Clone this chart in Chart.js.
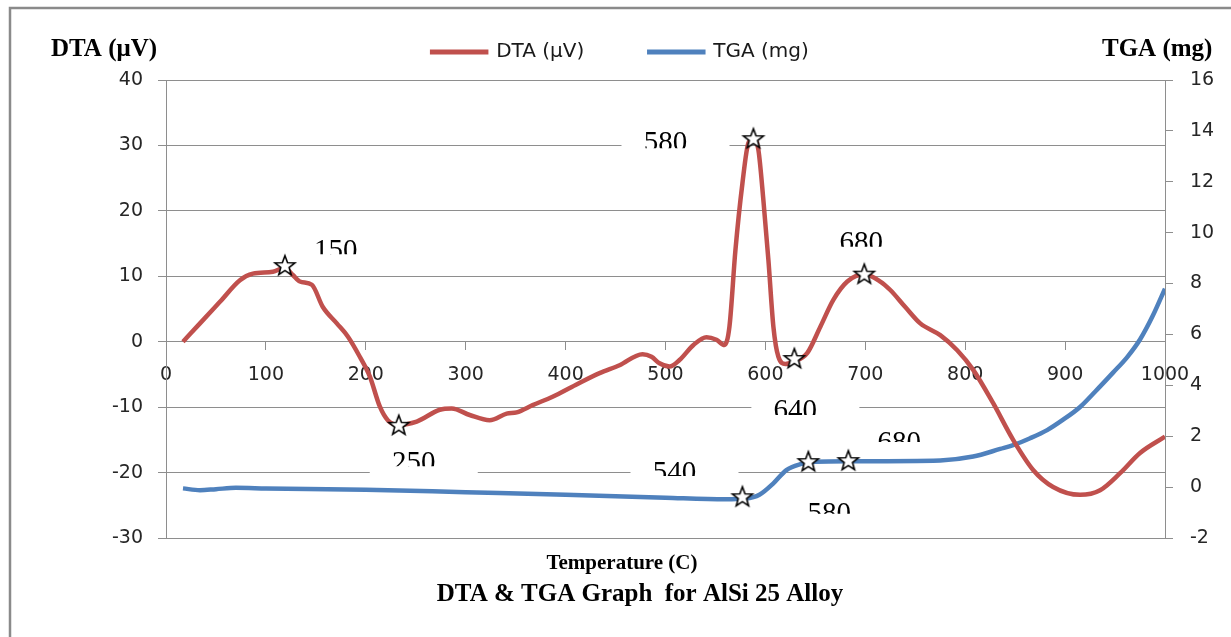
<!DOCTYPE html>
<html>
<head>
<meta charset="utf-8">
<title>DTA & TGA Graph for AlSi 25 Alloy</title>
<script src="https://cdn.jsdelivr.net/npm/chart.js"></script>
<style>
  html, body { margin: 0; padding: 0; background: #fff; }
  canvas { display: block; }
</style>
</head>
<body>
<canvas id="chart" width="1231" height="637"></canvas>
<script>
// temperature (C) / DTA (uV)
const dtaTemp = [17, 34, 54, 74, 87, 107, 119, 127, 134, 146, 157, 171, 182, 194, 204, 214, 222, 233, 251, 274,
  286, 304, 324, 341, 351, 367, 387, 410, 434, 454, 477, 486, 494, 504, 514, 528, 541, 551, 559, 564,
  570, 577, 583, 588, 593, 598, 603, 608, 613, 620, 629, 642, 655, 668, 682, 699, 715, 725, 740, 755,
  775, 792, 808, 828, 848, 868, 888, 915, 935, 955, 975, 1000];
const dtaValues = [0, 2.8, 6.1, 9.4, 10.4, 10.7, 11.3, 10.2, 9.2, 8.7, 5.3, 2.8, 0.8, -2.3, -5.3, -9.9, -12, -12.7, -12.2, -10.4,
  -10.2, -11.2, -12, -11, -10.8, -9.7, -8.4, -6.6, -4.8, -3.6, -1.9, -2.3, -3.3, -3.8, -2.8, -0.5, 0.7, 0.3, -0.5, 2.3,
  14, 24.2, 30.4, 31, 29.3, 21.6, 12.5, 2.3, -2.3, -3.4, -3.0, -1.7, 2.3, 6.4, 9.2, 10.3, 9.2, 7.9, 5.3, 2.8,
  1.0, -1.3, -4.3, -9.4, -15, -19.6, -22.2, -23.4, -22.7, -20.1, -17, -14.5];

// temperature (C) / TGA (mg)
const tgaTemp = [17, 34, 50, 70, 100, 200, 300, 400, 500, 560, 580, 594, 608, 621, 635, 650, 685, 775, 808, 835,
  848, 865, 882, 898, 915, 930, 948, 962, 975, 988, 1000];
const tgaValues = [-0.05, -0.12, -0.08, -0.03, -0.05, -0.1, -0.2, -0.3, -0.42, -0.48, -0.45, -0.3, 0.15, 0.67, 0.9, 1.0, 1.02, 1.05, 1.2, 1.5,
  1.65, 1.92, 2.24, 2.65, 3.15, 3.75, 4.5, 5.1, 5.8, 6.75, 7.8];

// star markers
const dtaStarTemp = [119, 233, 588, 629, 699];
const dtaStarValues = [11.7, -12.7, 31.1, -2.5, 10.4];
const tgaStarTemp = [577, 643, 683];
const tgaStarValues = [-0.36, 1.02, 1.06];

// axis ticks
const tempTicks = [0, 1000, 100];
const dtaTicks = [-30, 40, 10];
const tgaTicks = [-2, 16, 2];

// callout texts (temperature, DTA value at the text top)
const noteLabels = [
  {text: '150', t: 170, v: 15.5, clip: 14},
  {text: '250', t: 248, v: -16.9, clip: 14},
  {text: '580', t: 500, v: 32.0, clip: 16},
  {text: '680', t: 696, v: 16.8, clip: 15},
  {text: '640', t: 630, v: -8.9, clip: 15},
  {text: '540', t: 509, v: -18.4, clip: 14},
  {text: '680', t: 734, v: -13.8, clip: 10},
  {text: '580', t: 664, v: -24.6, clip: 11}
];

const RED = '#c0504d';
const BLUE = '#4f81bd';
const GRID = '#8e8e8e';
const SERIF = '"Liberation Serif", "Times New Roman", serif';

const toXY = (xs, ys) => xs.map((x, i) => ({x: x, y: ys[i]}));

function makeStar() {
  const c = document.createElement('canvas');
  c.width = 26;
  c.height = 26;
  const g = c.getContext('2d');
  g.beginPath();
  for (let i = 0; i < 10; i++) {
    const r = i % 2 === 0 ? 10.5 : 4.4;
    const a = -Math.PI / 2 + i * Math.PI / 5;
    g.lineTo(13 + r * Math.cos(a), 14 + r * Math.sin(a));
  }
  g.closePath();
  g.fillStyle = '#fff';
  g.fill();
  g.lineWidth = 1.6;
  g.strokeStyle = '#000';
  g.stroke();
  return c;
}
const star = makeStar();

// room under the legend
const legendGap = {
  id: 'legendGap',
  beforeInit(chart) {
    const fit = chart.legend.fit;
    chart.legend.fit = function () {
      fit.call(this);
      this.height += 8;
    };
  }
};

const decorations = {
  id: 'decorations',
  beforeDraw(chart) {
    const ctx = chart.ctx;
    ctx.save();
    ctx.strokeStyle = '#8a8a8a';
    ctx.lineWidth = 2.5;
    ctx.beginPath();
    ctx.moveTo(10, 700);
    ctx.lineTo(10, 8);
    ctx.lineTo(1300, 8);
    ctx.stroke();
    ctx.restore();
  },
  beforeDatasetsDraw(chart) {
    const ctx = chart.ctx;
    const xs = chart.scales.x, ys = chart.scales.y;
    ctx.save();
    ctx.font = '29px ' + SERIF;
    ctx.textAlign = 'center';
    ctx.textBaseline = 'alphabetic';
    noteLabels.forEach(n => {
      const cx = xs.getPixelForValue(n.t);
      const top = ys.getPixelForValue(n.v);
      ctx.fillStyle = '#fff';
      ctx.fillRect(cx - 44, top - 10, 108, 34);
      ctx.save();
      ctx.beginPath();
      ctx.rect(cx - 44, top - 10, 108, 10 + n.clip);
      ctx.clip();
      ctx.fillStyle = '#000';
      ctx.fillText(n.text, cx, top + 19);
      ctx.restore();
    });
    ctx.restore();
  },
  afterDraw(chart) {
    const ctx = chart.ctx;
    ctx.save();
    ctx.fillStyle = '#000';
    ctx.textBaseline = 'alphabetic';
    ctx.font = 'bold 25px ' + SERIF;
    ctx.textAlign = 'left';
    ctx.fillText('DTA (μV)', 51, 56);
    ctx.fillText('TGA (mg)', 1102, 56);
    ctx.textAlign = 'center';
    ctx.font = 'bold 21px ' + SERIF;
    ctx.fillText('Temperature (C)', 622, 569);
    ctx.font = 'bold 25px ' + SERIF;
    ctx.fillText('DTA & TGA Graph  for AlSi 25 Alloy', 640, 601);
    ctx.restore();
  }
};

Chart.defaults.font.family = '"DejaVu Sans", sans-serif';
Chart.defaults.color = '#262626';

new Chart(document.getElementById('chart'), {
  type: 'line',
  data: {
    datasets: [
      {
        label: 'dta-stars', type: 'scatter', data: toXY(dtaStarTemp, dtaStarValues),
        yAxisID: 'y', pointStyle: star, order: 0
      },
      {
        label: 'tga-stars', type: 'scatter', data: toXY(tgaStarTemp, tgaStarValues),
        yAxisID: 'y1', pointStyle: star, order: 0
      },
      {
        label: 'DTA (μV)', data: toXY(dtaTemp, dtaValues), yAxisID: 'y',
        borderColor: RED, backgroundColor: RED, borderWidth: 4.5,
        pointRadius: 0, cubicInterpolationMode: 'monotone', order: 1
      },
      {
        label: 'TGA (mg)', data: toXY(tgaTemp, tgaValues), yAxisID: 'y1',
        borderColor: BLUE, backgroundColor: BLUE, borderWidth: 4.5,
        pointRadius: 0, cubicInterpolationMode: 'monotone', order: 2
      }
    ]
  },
  options: {
    responsive: false,
    animation: false,
    devicePixelRatio: 1,
    layout: { padding: { top: -23, left: 10, right: 0, bottom: 99 } },
    plugins: {
      legend: {
        display: true,
        position: 'top',
        labels: {
          filter: item => item.text.indexOf('stars') < 0,
          boxWidth: 54,
          boxHeight: 0.5,
          padding: 65,
          color: '#1a1a1a',
          font: { size: 20 }
        }
      },
      title: { display: false },
      tooltip: { enabled: false }
    },
    scales: {
      x: {
        type: 'linear',
        position: { y: 0 },
        min: tempTicks[0], max: tempTicks[1],
        ticks: {
          stepSize: tempTicks[2], padding: 14, maxRotation: 0, font: { size: 19 },
          callback: v => String(v)
        },
        grid: { drawOnChartArea: false, drawTicks: true, tickLength: 8, color: GRID },
        border: { display: true, color: GRID, width: 1 }
      },
      y: {
        position: 'left',
        min: dtaTicks[0], max: dtaTicks[1],
        ticks: { stepSize: dtaTicks[2], padding: 15, font: { size: 19 } },
        grid: { color: GRID, tickLength: 8 },
        border: { display: true, color: GRID, width: 1 },
        afterFit(scale) { scale.width = 156; }
      },
      y1: {
        position: 'right',
        min: tgaTicks[0], max: tgaTicks[1],
        ticks: { stepSize: tgaTicks[2], padding: 17, font: { size: 19 } },
        grid: { drawOnChartArea: false, tickLength: 8, color: GRID },
        border: { display: true, color: GRID, width: 1 },
        afterFit(scale) { scale.width = 66; }
      }
    }
  },
  plugins: [legendGap, decorations]
});
</script>
</body>
</html>
